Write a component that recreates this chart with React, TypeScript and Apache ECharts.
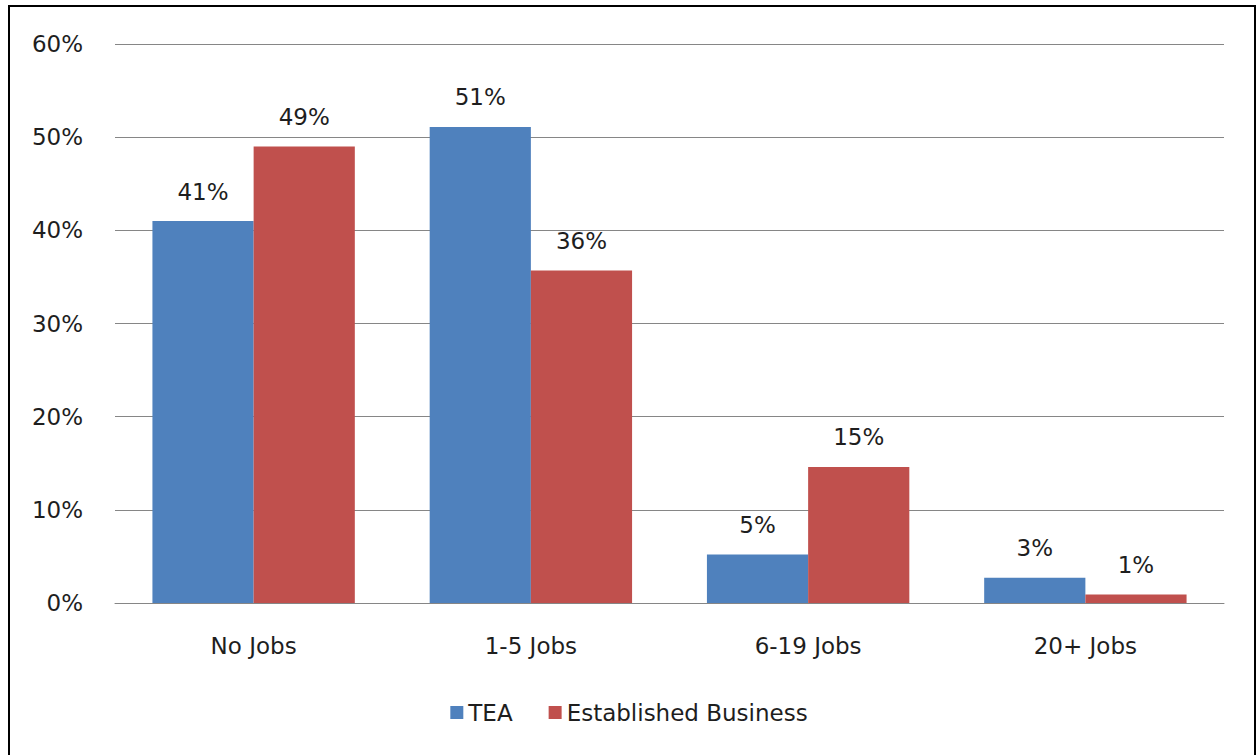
import React, { useEffect, useRef } from "react";
import * as echarts from "echarts";

const categories = ["No Jobs", "1-5 Jobs", "6-19 Jobs", "20+ Jobs"];
const teaValues = [41.0, 51.1, 5.2, 2.7];
const establishedValues = [49.0, 35.7, 14.6, 0.9];
const yTicks = [0, 10, 20, 30, 40, 50, 60];

const FONT = "DejaVu Sans";
const TEXT = "#1e1e1e";
const FS = 23;

export default function App() {
  const ref = useRef<HTMLDivElement>(null);
  useEffect(() => {
    if (!ref.current) return;
    const chart = echarts.init(ref.current, null, { renderer: "svg" });
    const label = {
      show: true,
      position: "top" as const,
      distance: 18,
      fontFamily: FONT,
      fontSize: FS,
      color: TEXT,
      formatter: (p: any) => Math.round(p.value) + "%",
    };
    chart.setOption({
      animation: false,
      backgroundColor: "#ffffff",
      textStyle: { fontFamily: FONT },
      grid: { left: 115, right: 34, top: 44, bottom: 152 },
      legend: {
        bottom: 26,
        left: "center",
        itemWidth: 13,
        itemHeight: 13,
        itemGap: 36,
        icon: "rect",
        textStyle: { fontFamily: FONT, fontSize: FS, color: TEXT },
        data: ["TEA", "Established Business"],
      },
      xAxis: {
        type: "category",
        data: categories,
        axisLine: { show: true, lineStyle: { color: "#868686", width: 1 } },
        axisTick: { show: false },
        axisLabel: { margin: 31, fontFamily: FONT, fontSize: FS, color: TEXT },
      },
      yAxis: {
        type: "value",
        min: yTicks[0],
        max: yTicks[yTicks.length - 1],
        interval: 10,
        axisLine: { show: false },
        axisTick: { show: false },
        axisLabel: {
          margin: 32,
          fontFamily: FONT,
          fontSize: FS,
          color: TEXT,
          formatter: (v: number) => v + "%",
        },
        splitLine: { lineStyle: { color: "#868686", width: 1 } },
      },
      series: [
        {
          name: "TEA",
          type: "bar",
          data: teaValues,
          itemStyle: { color: "#4F81BD" },
          barGap: "0%",
          barCategoryGap: "27%",
          label,
        },
        {
          name: "Established Business",
          type: "bar",
          data: establishedValues,
          itemStyle: { color: "#C0504D" },
          barGap: "0%",
          barCategoryGap: "27%",
          label,
        },
      ],
    });
    return () => chart.dispose();
  }, []);
  return (
    <div style={{ position: "fixed", left: 0, top: 0, width: 1258, height: 755, background: "#fff" }}>
      <div ref={ref} style={{ position: "absolute", left: 0, top: 0, width: 1258, height: 755 }} />
      <div
        style={{
          position: "absolute",
          left: 8,
          top: 5,
          width: 1244,
          height: 760,
          border: "2px solid #000",
          pointerEvents: "none",
        }}
      />
    </div>
  );
}
